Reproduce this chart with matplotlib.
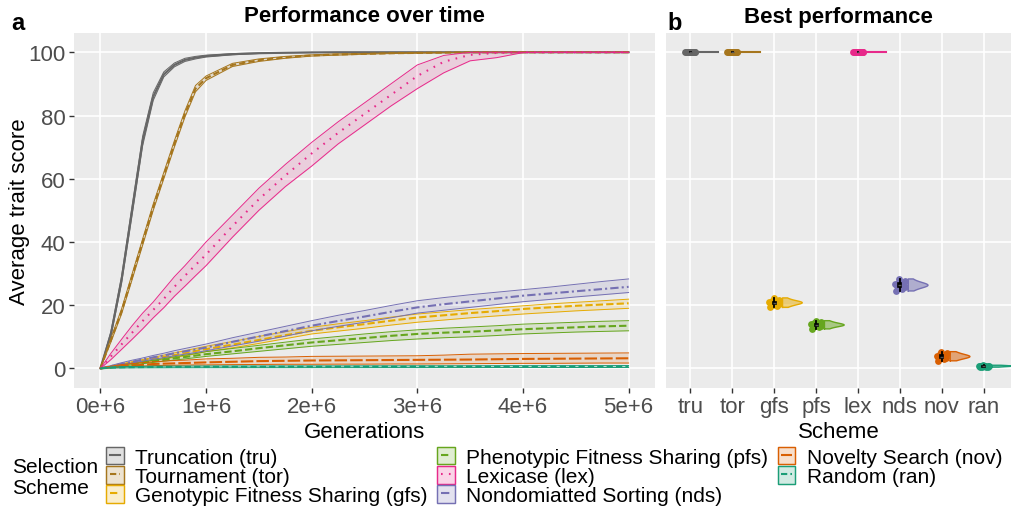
import numpy as np
import matplotlib.pyplot as plt
from matplotlib.patches import Patch
from matplotlib.lines import Line2D
from matplotlib.legend_handler import HandlerLine2D

plt.rcParams['font.family'] = ['Liberation Sans', 'DejaVu Sans']

# generations, in millions
gens_m = [0, 0.1, 0.2, 0.3, 0.4, 0.5, 0.6, 0.7, 0.8, 0.9, 1.0, 1.25, 1.5, 1.75, 2.0,
          2.25, 2.5, 2.75, 3.0, 3.25, 3.5, 3.75, 4.0, 4.25, 4.5, 4.75, 5.0]

tru_mean = [0, 11, 28, 50, 72, 86, 93, 96, 97.6, 98.3, 98.8, 99.4, 99.7, 99.85, 99.95,
            100, 100, 100, 100, 100, 100, 100, 100, 100, 100, 100, 100]
tru_lo = [0, 10.2, 26.8, 48.5, 70.5, 84.8, 92.2, 95.4, 97.1, 97.9, 98.5, 99.2, 99.6, 99.8, 99.9,
          100, 100, 100, 100, 100, 100, 100, 100, 100, 100, 100, 100]
tru_hi = [0, 11.8, 29.2, 51.5, 73.5, 87.2, 93.8, 96.6, 98.1, 98.7, 99.1, 99.6, 99.8, 99.9, 100,
          100, 100, 100, 100, 100, 100, 100, 100, 100, 100, 100, 100]

tor_mean = [0, 9, 18, 29, 40, 51, 61, 71, 80.5, 88.5, 91.8, 96, 97.5, 98.4, 99,
            99.3, 99.5, 99.7, 99.8, 99.9, 100, 100, 100, 100, 100, 100, 100]
tor_lo = [0, 8.4, 17.2, 28.1, 39, 50, 60, 70, 79.5, 87.5, 91.1, 95.5, 97.1, 98.1, 98.8,
          99.1, 99.4, 99.6, 99.7, 99.85, 99.95, 100, 100, 100, 100, 100, 100]
tor_hi = [0, 9.6, 18.8, 29.9, 41, 52, 62, 72, 81.5, 89.5, 92.5, 96.5, 97.9, 98.7, 99.2,
          99.5, 99.6, 99.8, 99.9, 99.95, 100, 100, 100, 100, 100, 100, 100]

gfs_mean = [0, 0.6, 1.2, 1.8, 2.4, 3.0, 3.6, 4.2, 4.8, 5.5, 6.1, 7.5, 9.0, 10.5, 11.9,
            13.0, 14.0, 15.1, 16.1, 16.8, 17.5, 18.1, 18.8, 19.3, 19.8, 20.2, 20.6]
gfs_lo = [0, 0.5, 1.0, 1.5, 2.0, 2.5, 3.0, 3.5, 4.0, 4.6, 5.3, 6.5, 7.9, 9.4, 10.9,
          11.8, 12.7, 13.7, 14.6, 15.3, 16.0, 16.6, 17.2, 17.7, 18.2, 18.6, 19.0]
gfs_hi = [0, 0.7, 1.4, 2.1, 2.8, 3.5, 4.2, 4.9, 5.6, 6.3, 7.0, 8.5, 10.1, 11.6, 13.0,
          14.1, 15.1, 16.2, 17.2, 17.9, 18.6, 19.2, 19.8, 20.4, 20.9, 21.4, 21.9]

pfs_mean = [0, 0.45, 0.9, 1.35, 1.8, 2.25, 2.7, 3.2, 3.6, 4.05, 4.5, 5.4, 6.4, 7.3, 8.2,
            8.9, 9.6, 10.3, 10.9, 11.3, 11.6, 12.0, 12.4, 12.7, 13.0, 13.3, 13.5]
pfs_lo = [0, 0.35, 0.75, 1.1, 1.5, 1.9, 2.3, 2.65, 3.0, 3.4, 3.8, 4.6, 5.4, 6.2, 7.0,
          7.6, 8.2, 8.8, 9.3, 9.7, 10.0, 10.4, 10.9, 11.2, 11.5, 11.7, 11.9]
pfs_hi = [0, 0.55, 1.05, 1.6, 2.1, 2.6, 3.1, 3.7, 4.2, 4.7, 5.3, 6.3, 7.3, 8.3, 9.3,
          10.1, 10.9, 11.6, 12.2, 12.7, 13.1, 13.5, 14.0, 14.3, 14.6, 14.9, 15.1]

lex_mean = [0, 3.8, 7.6, 11.3, 15, 18.5, 22, 25.8, 29.3, 32.7, 36, 45, 53.5, 61, 68,
            74.5, 80.5, 86.5, 92.5, 97, 99.2, 99.8, 100, 100, 100, 100, 100]
lex_lo = [0, 2.8, 6, 9.2, 12.5, 16, 19.2, 22.8, 26, 29.3, 32.5, 41.5, 50, 57.5, 64,
          71, 77, 83, 88.5, 93.5, 97.3, 98.3, 99.9, 100, 100, 100, 100]
lex_hi = [0, 4.8, 9.2, 13.5, 17.5, 21, 25, 29, 32.5, 36.2, 40, 48.5, 57, 64.5, 71.5,
          78, 84, 90, 96, 99, 100, 100, 100, 100, 100, 100, 100]

nds_mean = [0, 0.7, 1.4, 2.1, 2.8, 3.5, 4.1, 4.8, 5.4, 6.0, 6.6, 8.4, 10.1, 11.8, 13.5,
            15.0, 16.4, 17.9, 19.3, 20.3, 21.2, 22.1, 23.0, 23.7, 24.4, 25.1, 25.8]
nds_lo = [0, 0.5, 1.1, 1.7, 2.3, 2.9, 3.4, 4.0, 4.5, 5.0, 5.6, 7.1, 8.6, 10.2, 11.9,
          13.3, 14.6, 16.0, 17.5, 18.4, 19.3, 20.2, 21.1, 21.8, 22.6, 23.3, 24.0]
nds_hi = [0, 0.9, 1.8, 2.6, 3.3, 4.1, 4.8, 5.6, 6.3, 7.0, 7.7, 9.7, 11.5, 13.3, 15.1,
          16.8, 18.3, 19.9, 21.4, 22.4, 23.3, 24.1, 24.9, 25.7, 26.6, 27.5, 28.3]

nov_mean = [0, 0.4, 0.7, 0.9, 1.1, 1.4, 1.5, 1.6, 1.7, 1.8, 1.9, 2.1, 2.3, 2.4, 2.5,
            2.55, 2.6, 2.65, 2.7, 2.75, 2.8, 2.9, 3.0, 3.05, 3.1, 3.15, 3.2]
nov_lo = [0, 0.2, 0.4, 0.6, 0.7, 0.9, 0.95, 1.0, 1.05, 1.1, 1.1, 1.2, 1.25, 1.3, 1.3,
          1.35, 1.35, 1.4, 1.4, 1.45, 1.5, 1.55, 1.6, 1.6, 1.65, 1.7, 1.7]
nov_hi = [0, 0.7, 1.2, 1.5, 1.8, 2.1, 2.3, 2.5, 2.6, 2.8, 3.0, 3.2, 3.5, 3.6, 3.8,
          3.85, 3.9, 3.95, 4.0, 4.2, 4.5, 4.6, 4.7, 4.75, 4.8, 4.85, 4.9]

ran_mean = [0, 0.25, 0.35, 0.4, 0.42, 0.45, 0.46, 0.47, 0.48, 0.48, 0.5, 0.5, 0.5, 0.52, 0.52,
            0.53, 0.53, 0.54, 0.55, 0.55, 0.56, 0.56, 0.57, 0.57, 0.58, 0.58, 0.6]
ran_lo = [0, 0.1, 0.15, 0.18, 0.2, 0.2, 0.2, 0.22, 0.22, 0.22, 0.23, 0.23, 0.24, 0.24, 0.25,
          0.25, 0.25, 0.26, 0.26, 0.27, 0.27, 0.28, 0.28, 0.28, 0.29, 0.29, 0.3]
ran_hi = [0, 0.4, 0.55, 0.62, 0.66, 0.7, 0.72, 0.73, 0.74, 0.75, 0.76, 0.77, 0.78, 0.79, 0.8,
          0.8, 0.81, 0.82, 0.83, 0.83, 0.84, 0.85, 0.86, 0.86, 0.87, 0.88, 0.9]

# best performance per replicate
tru_best = [100, 100, 100, 100, 100, 100, 100, 100, 100, 100, 100, 100]
tor_best = [100, 100, 100, 100, 100, 100, 100, 100, 100, 100, 100, 100]
gfs_best = [19.3, 19.8, 20.2, 20.4, 20.6, 20.7, 20.8, 21.0, 21.1, 21.3, 21.7, 22.3]
pfs_best = [12.5, 13.0, 13.3, 13.5, 13.6, 13.7, 13.8, 13.9, 14.1, 14.3, 14.6, 15.1]
lex_best = [100, 100, 100, 100, 100, 100, 100, 100, 100, 100, 100, 100]
nds_best = [24.5, 25.2, 25.6, 25.9, 26.1, 26.2, 26.4, 26.6, 26.8, 27.1, 27.5, 28.3]
nov_best = [2.4, 2.9, 3.2, 3.4, 3.6, 3.7, 3.8, 4.0, 4.2, 4.4, 4.8, 5.3]
ran_best = [0.4, 0.5, 0.6, 0.6, 0.7, 0.7, 0.7, 0.8, 0.8, 0.9, 0.9, 1.0]

schemes = ["tru", "tor", "gfs", "pfs", "lex", "nds", "nov", "ran"]
names = ["Truncation (tru)", "Tournament (tor)", "Genotypic Fitness Sharing (gfs)",
         "Phenotypic Fitness Sharing (pfs)", "Lexicase (lex)", "Nondomiatted Sorting (nds)",
         "Novelty Search (nov)", "Random (ran)"]
colors = ["#666666", "#A6761D", "#E6AB02", "#66A61E", "#E7298A", "#7570B3", "#D95F02", "#1B9E77"]
dashes = [None, (3, 1.5), (3.5, 1.5), (3.5, 1.5), (0.8, 3), (4, 1.5, 1, 1.5), (6, 1.5), (3, 1.5)]

means = [tru_mean, tor_mean, gfs_mean, pfs_mean, lex_mean, nds_mean, nov_mean, ran_mean]
lows = [tru_lo, tor_lo, gfs_lo, pfs_lo, lex_lo, nds_lo, nov_lo, ran_lo]
highs = [tru_hi, tor_hi, gfs_hi, pfs_hi, lex_hi, nds_hi, nov_hi, ran_hi]
bests = [tru_best, tor_best, gfs_best, pfs_best, lex_best, nds_best, nov_best, ran_best]

# fixed horizontal jitter for the point clouds
jitter_dx = np.array([-0.10, 0.06, -0.03, 0.11, -0.08, 0.02, 0.09, -0.12, 0.04, -0.05, 0.12, -0.01])


class ShortLine(HandlerLine2D):
    # legend key line only across the middle of the key box
    def create_artists(self, legend, orig_handle, xdescent, ydescent, width, height,
                       fontsize, trans):
        arts = super().create_artists(legend, orig_handle, xdescent, ydescent, width,
                                      height, fontsize, trans)
        for a in arts:
            xd = np.asarray(a.get_xdata(), dtype=float)
            yd = np.asarray(a.get_ydata(), dtype=float)
            if len(xd) >= 2:
                mid = (xd[0] + xd[-1]) / 2
                a.set_data([mid - 0.3 * width, mid + 0.3 * width], [yd[0], yd[0]])
        return arts


W, H = 1011, 510
fig = plt.figure(figsize=(W / 100, H / 100), dpi=100)
ax = fig.add_axes([74 / W, 1 - 389 / H, 581 / W, 355 / H])
ax2 = fig.add_axes([666 / W, 1 - 389 / H, 345 / W, 355 / H])

for a in (ax, ax2):
    a.set_facecolor("#EBEBEB")
    for sp in a.spines.values():
        sp.set_visible(False)
    a.grid(True, color="white", linewidth=1.2)
    a.set_axisbelow(True)
    a.tick_params(colors="#333333", labelcolor="#4D4D4D", labelsize=16, length=3.5, width=1, pad=2.5)
    a.set_ylim(-6.2, 106.1)
    a.set_yticks([0, 20, 40, 60, 80, 100])

# panel a: performance over time
g = np.array(gens_m) * 1e6
for i in range(len(schemes)):
    c = colors[i]
    ax.fill_between(g, lows[i], highs[i], color=c, alpha=0.15, linewidth=0)
    ax.plot(g, lows[i], color=c, linewidth=0.7)
    ax.plot(g, highs[i], color=c, linewidth=0.7)
    ln, = ax.plot(g, means[i], color=c, linewidth=1.5)
    if dashes[i] is not None:
        ln.set_dashes(dashes[i])

ax.set_xlim(-0.25e6, 5.25e6)
ax.set_xticks([0, 1e6, 2e6, 3e6, 4e6, 5e6])
ax.set_xticklabels(["0e+6", "1e+6", "2e+6", "3e+6", "4e+6", "5e+6"])
ax.set_xlabel("Generations", fontsize=16, labelpad=3)
ax.set_ylabel("Average trait score", fontsize=16, labelpad=-1)

# panel b: best performance
for i in range(len(schemes)):
    c = colors[i]
    pos = i + 1
    vals = np.array(bests[i], dtype=float)
    ax2.scatter(pos + jitter_dx, vals, color=c, s=24, linewidths=0, zorder=3)
    ax2.boxplot(vals, positions=[pos], widths=0.07, showfliers=False, showcaps=False,
                patch_artist=True, manage_ticks=False,
                boxprops=dict(facecolor="black", edgecolor="black", linewidth=1.2),
                whiskerprops=dict(color="black", linewidth=1.3),
                medianprops=dict(color="#555555", linewidth=1), zorder=4)
    x0 = pos + 0.2
    if vals.std() > 0:
        ys = np.linspace(vals.min(), vals.max(), 120)
        bw = 1.06 * vals.std() * len(vals) ** (-1 / 5)
        dens = np.exp(-0.5 * ((ys[:, None] - vals[None, :]) / bw) ** 2).sum(axis=1)
        dens = dens / dens.max() * 0.47
        ax2.fill_betweenx(ys, x0, x0 + dens, facecolor=c, alpha=0.5, linewidth=0)
        ax2.plot(np.concatenate([[x0], x0 + dens, [x0, x0]]),
                 np.concatenate([[ys[0]], ys, [ys[-1], ys[0]]]), color=c, linewidth=1)
    else:
        ax2.plot([x0, x0 + 0.47], [vals[0], vals[0]], color=c, linewidth=1.5)

ax2.set_xlim(0.42, 8.65)
ax2.set_xticks(range(1, 9))
ax2.set_xticklabels(schemes)
ax2.tick_params(axis="y", left=False, labelleft=False)
ax2.set_xlabel("Scheme", fontsize=16, labelpad=3)

# titles and panel tags
fig.text((74 + 655) / 2 / W, 1 - 22.5 / H, "Performance over time", ha="center", va="baseline",
         fontsize=16, fontweight="bold")
fig.text((666 + 1011) / 2 / W, 1 - 22.5 / H, "Best performance", ha="center", va="baseline",
         fontsize=16, fontweight="bold")
fig.text(11 / W, 1 - 29.5 / H, "a", fontsize=17, fontweight="bold", va="baseline")
fig.text(667 / W, 1 - 29.5 / H, "b", fontsize=17, fontweight="bold", va="baseline")

# legend
handles = []
for i in range(len(schemes)):
    p = Patch(facecolor=colors[i], alpha=0.2, edgecolor=colors[i], linewidth=1)
    ln = Line2D([], [], color=colors[i], linewidth=1.5)
    if dashes[i] is not None:
        ln.set_dashes(dashes[i])
    handles.append((Patch(facecolor="none", edgecolor=colors[i], linewidth=1), p, ln))
leg = fig.legend(handles, names, ncol=3, loc="upper left", bbox_to_anchor=(106 / W, 1 - 447.5 / H),
                 frameon=False, fontsize=15, handlelength=0.85, handleheight=0.95,
                 handletextpad=0.55, columnspacing=0.45, labelspacing=-0.04, borderpad=0,
                 borderaxespad=0, handler_map={Line2D: ShortLine()})
fig.text(12 / W, 1 - 478 / H, "Selection\nScheme", fontsize=15, va="center", ha="left",
         linespacing=1.1)

fig.savefig("out.png", dpi=100)
